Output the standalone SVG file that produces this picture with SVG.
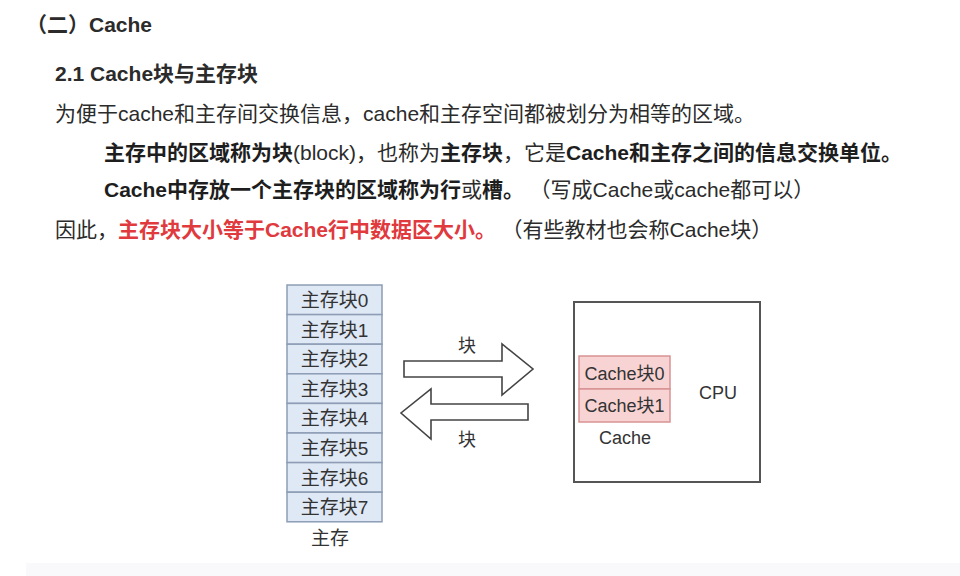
<svg xmlns="http://www.w3.org/2000/svg" width="960" height="576" viewBox="0 0 960 576">
<style>
text{font-family:"Liberation Sans","Noto Sans CJK SC",sans-serif;fill:#2b2b2b}
.h{font-weight:700}
.body{font-size:21px}
.b{font-weight:700;fill:#1e1e1e}
.red{font-weight:700;fill:#e03a3e}
.mem rect{fill:#dfe8f5;stroke:#8d9db5;stroke-width:1.5}
.mem text{font-size:19px;text-anchor:middle;fill:#333}
.cb text{font-size:18px;text-anchor:middle;fill:#333}
.cb rect{fill:#f8d3d3;stroke:#d89393;stroke-width:1.5}
.lbl{font-size:18px;text-anchor:middle;fill:#333}
.arrow{fill:#fff;stroke:#444;stroke-width:1.6;stroke-linejoin:miter}
</style>
<rect width="960" height="576" fill="#fff"/>
<rect x="26" y="563" width="934" height="13" fill="#f9f9fb"/>
<g id="text">
<text class="h" x="26" y="32" font-size="21">（二）Cache</text>
<text class="h" x="55" y="81" font-size="21">2.1 Cache块与主存块</text>
<text class="body" x="55" y="121">为便于cache和主存间交换信息，cache和主存空间都被划分为相等的区域。</text>
<text class="body" x="104" y="160"><tspan class="b">主存中的区域称为块</tspan>(block)，也称为<tspan class="b">主存块</tspan>，它是<tspan class="b">Cache和主存之间的信息交换单位。</tspan></text>
<text class="body" x="104" y="197"><tspan class="b">Cache中存放一个主存块的区域称为行</tspan>或<tspan class="b">槽。</tspan><tspan dx="16">（写成Cache或cache都可以）</tspan></text>
<text class="body" x="55" y="237">因此，<tspan class="red">主存块大小等于Cache行中数据区大小。</tspan><tspan dx="16">（有些教材也会称Cache块）</tspan></text>
</g>
<g id="main-memory" class="mem">
<g id="mem-block-0"><rect x="287" y="285" width="95" height="29.6"/><text x="334.5" y="307">主存块0</text></g>
<g id="mem-block-1"><rect x="287" y="314.6" width="95" height="29.6"/><text x="334.5" y="336.6">主存块1</text></g>
<g id="mem-block-2"><rect x="287" y="344.2" width="95" height="29.6"/><text x="334.5" y="366.2">主存块2</text></g>
<g id="mem-block-3"><rect x="287" y="373.8" width="95" height="29.6"/><text x="334.5" y="395.8">主存块3</text></g>
<g id="mem-block-4"><rect x="287" y="403.4" width="95" height="29.6"/><text x="334.5" y="425.4">主存块4</text></g>
<g id="mem-block-5"><rect x="287" y="433" width="95" height="29.6"/><text x="334.5" y="455">主存块5</text></g>
<g id="mem-block-6"><rect x="287" y="462.6" width="95" height="29.6"/><text x="334.5" y="484.6">主存块6</text></g>
<g id="mem-block-7"><rect x="287" y="492.2" width="95" height="29.6"/><text x="334.5" y="514.2">主存块7</text></g>
<text class="lbl" x="330" y="545">主存</text>
</g>
<g id="cpu">
<rect x="574" y="302" width="186" height="180" fill="#fff" stroke="#555" stroke-width="2"/>
<text class="lbl" x="718" y="399" font-size="19">CPU</text>
</g>
<g id="cache" class="cb">
<g id="cache-block-0"><rect x="579" y="356" width="91" height="33"/><text x="624.5" y="380">Cache块0</text></g>
<g id="cache-block-1"><rect x="579" y="389" width="91" height="33"/><text x="624.5" y="412">Cache块1</text></g>
<text class="lbl" x="625" y="444" font-size="19">Cache</text>
</g>
<g id="connectors">
<polygon class="arrow" points="404,361 502,361 502,344 533,369 502,395 502,377 404,377"/>
<text class="lbl" x="467" y="352">块</text>
<polygon class="arrow" points="528,404 431,404 431,389 401,413 431,439 431,420 528,420"/>
<text class="lbl" x="467" y="446">块</text>
</g>
</svg>
